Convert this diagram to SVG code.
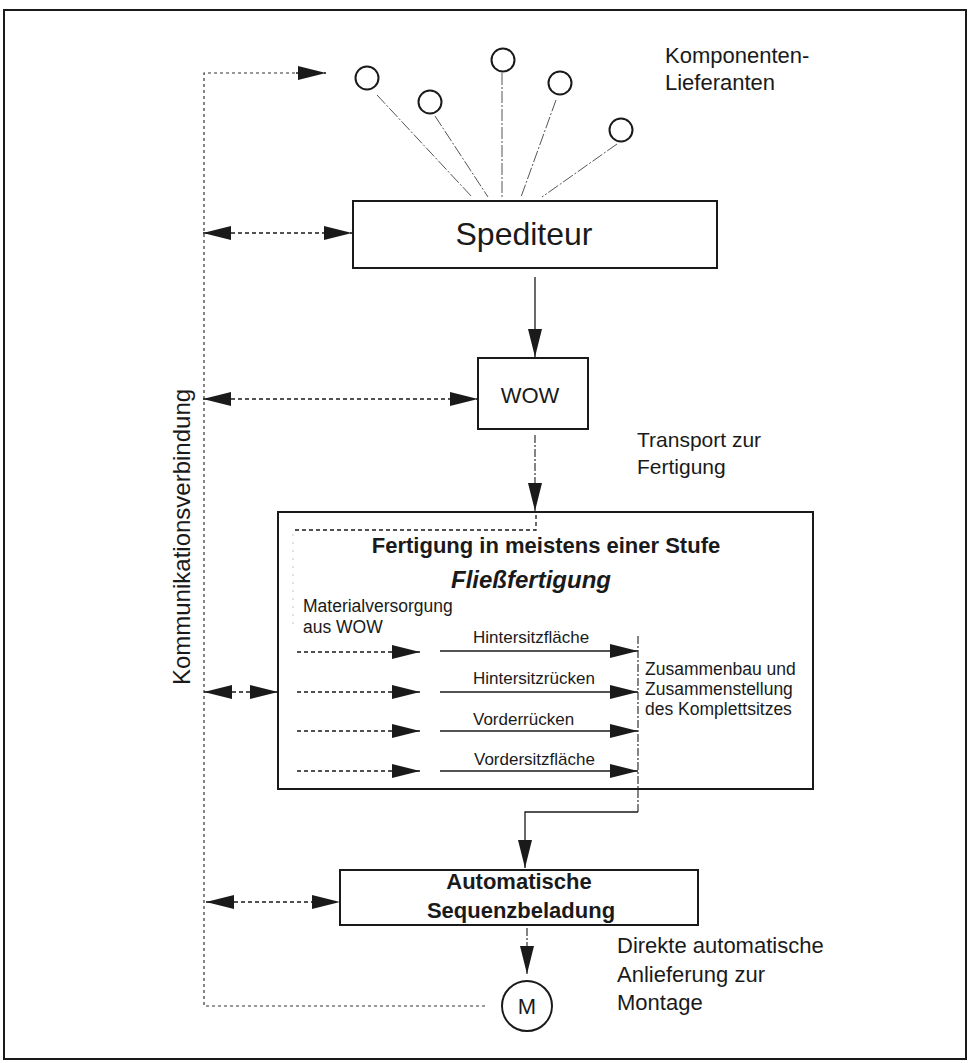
<svg xmlns="http://www.w3.org/2000/svg" width="968" height="1063" viewBox="0 0 968 1063">
  <style>
    text { font-family: "Liberation Sans", Arial, Helvetica, sans-serif; fill: #1a1a1a; }
    .box { fill: #fff; stroke: #1a1a1a; stroke-width: 2; }
    .sup { fill: #fff; stroke: #1a1a1a; stroke-width: 2; }
    .ray { fill: none; stroke: #555; stroke-width: 1; stroke-dasharray: 12 2 2 2; }
    .dash { fill: none; stroke: #1a1a1a; stroke-width: 1.3; stroke-dasharray: 4 3; }
    .comm { fill: none; stroke: #333; stroke-width: 1.2; stroke-dasharray: 3 3; }
    .solid { fill: none; stroke: #1a1a1a; stroke-width: 1.3; }
    .dashdot { fill: none; stroke: #333; stroke-width: 1.2; stroke-dasharray: 8 2 2 2; }
    .faint { fill: none; stroke: #c4c4c4; stroke-width: 1; stroke-dasharray: 2 6; }
    .arr { marker-end: url(#head); }
    .bi { marker-start: url(#head); marker-end: url(#head); }
    .lbl { font-size: 17.5px; }
    .row { font-size: 17px; }
    .side { font-size: 21px; }
    .bold { font-weight: bold; }
  </style>
  <defs>
    <marker id="head" viewBox="0 0 28 14" markerWidth="28" markerHeight="14" refX="28" refY="7" orient="auto-start-reverse" markerUnits="userSpaceOnUse">
      <path d="M0,0 L28,7 L0,14 z" fill="#1a1a1a"/>
    </marker>
  </defs>

  <rect width="968" height="1063" fill="#fff"/>
  <!-- outer frame -->
  <rect id="frame" x="4" y="10" width="962" height="1049" fill="none" stroke="#1a1a1a" stroke-width="2"/>

  <!-- component suppliers -->
  <g id="suppliers">
    <circle class="sup" cx="367" cy="78" r="11.5"/>
    <circle class="sup" cx="430" cy="102" r="11.5"/>
    <circle class="sup" cx="503" cy="60" r="11.5"/>
    <circle class="sup" cx="560" cy="83" r="11.5"/>
    <circle class="sup" cx="621" cy="130" r="11.5"/>
    <text x="665" y="63" font-size="22">Komponenten-</text>
    <text x="665" y="90" font-size="22">Lieferanten</text>
  </g>

  <g id="spediteur">
    <rect class="box" x="353" y="201" width="364" height="67"/>
    <text x="524" y="245" font-size="32" text-anchor="middle">Spediteur</text>
  </g>

  <g id="wow">
    <rect class="box" x="478" y="358" width="110" height="71"/>
    <text x="530" y="403" font-size="22" text-anchor="middle">WOW</text>
  </g>

  <g id="transport-label">
    <text class="side" x="637" y="447">Transport zur</text>
    <text class="side" x="637" y="474">Fertigung</text>
  </g>

  <g id="fertigung">
    <rect class="box" x="278" y="512" width="535" height="277"/>
    <text class="bold" x="546" y="553" font-size="22" text-anchor="middle">Fertigung in meistens einer Stufe</text>
    <text class="bold" x="531" y="588" font-size="24" font-style="italic" text-anchor="middle">Fließfertigung</text>
    <text class="lbl" x="303" y="612">Materialversorgung</text>
    <text class="lbl" x="303" y="633">aus WOW</text>
    <text class="row" x="473" y="643">Hintersitzfläche</text>
    <text class="row" x="473" y="684">Hintersitzrücken</text>
    <text class="row" x="473" y="725">Vorderrücken</text>
    <text class="row" x="474" y="765">Vordersitzfläche</text>
    <text class="lbl" x="645" y="675">Zusammenbau und</text>
    <text class="lbl" x="645" y="695">Zusammenstellung</text>
    <text class="lbl" x="645" y="715">des Komplettsitzes</text>
  </g>

  <g id="sequenzbeladung">
    <rect class="box" x="340" y="870" width="358" height="55"/>
    <text class="bold" x="519" y="889" font-size="22" text-anchor="middle">Automatische</text>
    <text class="bold" x="521" y="918" font-size="22" text-anchor="middle">Sequenzbeladung</text>
  </g>

  <g id="montage">
    <circle cx="527" cy="1006" r="25" fill="#fff" stroke="#1a1a1a" stroke-width="2"/>
    <text x="527" y="1014" font-size="22" text-anchor="middle">M</text>
  </g>

  <g id="direkt-label">
    <text x="617" y="953" font-size="22">Direkte automatische</text>
    <text x="617" y="982" font-size="22">Anlieferung zur</text>
    <text x="617" y="1010" font-size="22">Montage</text>
  </g>

  <g id="kommunikation-label">
    <text transform="translate(190,537) rotate(-90)" font-size="24" text-anchor="middle">Kommunikationsverbindung</text>
  </g>

  <!-- connectors, drawn last so they sit on top of the node fills -->
  <g id="connectors">
    <!-- supplier rays into the forwarder -->
    <line class="ray" x1="377" y1="95" x2="472" y2="197"/>
    <line class="ray" x1="435" y1="116" x2="488" y2="197"/>
    <line class="ray" x1="502" y1="73" x2="502" y2="197"/>
    <line class="ray" x1="556" y1="100" x2="521" y2="197"/>
    <line class="ray" x1="617" y1="144" x2="542" y2="197"/>

    <!-- material flow -->
    <line class="solid arr" x1="535" y1="277" x2="535" y2="357"/>
    <line class="dashdot arr" x1="535" y1="435" x2="535" y2="511"/>
    <polyline class="dash" points="536,515 536,530 292,530"/>
    <line class="faint" x1="293" y1="534" x2="293" y2="626"/>

    <!-- supply lines inside production -->
    <line class="dash arr" x1="297" y1="652" x2="420" y2="652"/>
    <line class="dash arr" x1="297" y1="692" x2="420" y2="692"/>
    <line class="dash arr" x1="297" y1="731" x2="420" y2="731"/>
    <line class="dash arr" x1="297" y1="771" x2="420" y2="771"/>
    <line class="solid arr" x1="440" y1="651" x2="638" y2="651"/>
    <line class="solid arr" x1="440" y1="692" x2="638" y2="692"/>
    <line class="solid arr" x1="440" y1="731" x2="638" y2="731"/>
    <line class="solid arr" x1="440" y1="771" x2="638" y2="771"/>
    <line class="dashdot" x1="638" y1="636" x2="638" y2="812"/>
    <polyline class="solid arr" points="638,812 525,812 525,868"/>
    <line class="dashdot arr" x1="527" y1="928" x2="527" y2="974"/>

    <!-- communication link -->
    <polyline class="comm" points="485,1006 204,1006 204,73 300,73"/>
    <line class="dash arr" x1="296" y1="73" x2="326" y2="73"/>
    <line class="dash bi" x1="203" y1="233" x2="352" y2="233"/>
    <line class="dash bi" x1="203" y1="399" x2="478" y2="399"/>
    <line class="dash bi" x1="204" y1="692" x2="278" y2="692"/>
    <line class="dash bi" x1="206" y1="902" x2="340" y2="902"/>
  </g>
</svg>
